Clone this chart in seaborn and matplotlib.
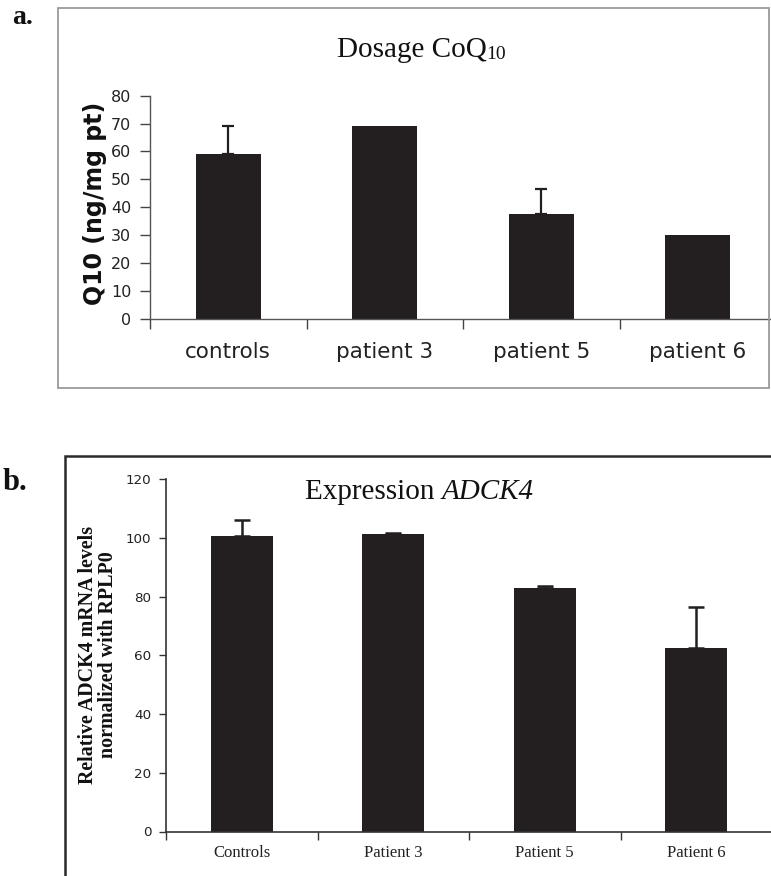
import matplotlib
matplotlib.use("Agg")
import matplotlib.pyplot as plt
import seaborn as sns
import pandas as pd
from matplotlib.patches import Rectangle
from matplotlib.ticker import FixedLocator

# ---------------- data ----------------
cats_a = ["controls", "patient 3", "patient 5", "patient 6"]
vals_a = [59.0, 69.3, 37.5, 30.2]
err_a = [10.0, 0.0, 9.0, 0.0]
yticks_a = [0, 10, 20, 30, 40, 50, 60, 70, 80]

cats_b = ["Controls", "Patient 3", "Patient 5", "Patient 6"]
vals_b = [100.5, 101.2, 82.8, 62.3]
err_b = [5.7, 0.3, 0.7, 14.1]
yticks_b = [0, 20, 40, 60, 80, 100, 120]

BAR = "#231f20"
W, H = 771, 876

sns.set_theme(style="white")
plt.rcParams["font.family"] = ["DejaVu Sans"]
serif = ["Liberation Serif", "DejaVu Serif"]

fig = plt.figure(figsize=(W / 100, H / 100), dpi=100)


def fx(px):
    return px / W


def fy(py):
    return 1 - py / H


def upper_errorbars(ax, vals, errs, **kw):
    idx = [i for i, e in enumerate(errs) if e > 0]
    ax.errorbar(idx, [vals[i] for i in idx],
                yerr=[[0] * len(idx), [errs[i] for i in idx]],
                fmt="none", zorder=3, **kw)


# ---------------- panel frames ----------------
fig.patches.append(Rectangle((fx(58), fy(388)), fx(769) - fx(58), fy(8) - fy(388),
                             transform=fig.transFigure, fill=False,
                             edgecolor="#9a9a9a", linewidth=1.3, zorder=0))
fig.patches.append(Rectangle((fx(64.5), fy(890)), fx(790) - fx(64.5), fy(456) - fy(890),
                             transform=fig.transFigure, fill=False,
                             edgecolor="#2a2a2a", linewidth=1.8, zorder=0))

# ---------------- panel a ----------------
ax1 = fig.add_axes([fx(150), fy(318.7), (776 - 150) / W, (318.7 - 95.7) / H])
ax1.patch.set_alpha(0)
dfa = pd.DataFrame({"cat": cats_a, "val": vals_a})
sns.barplot(data=dfa, x="cat", y="val", color=BAR, saturation=1, width=0.415,
            errorbar=None, ax=ax1, edgecolor=BAR, linewidth=0)
xa = list(range(len(cats_a)))
upper_errorbars(ax1, vals_a, err_a, ecolor=BAR, elinewidth=1.6, capsize=4.5, capthick=1.6)
ax1.set_ylim(0, 80)
ax1.set_xlim(-0.5, len(cats_a) - 0.5)
ax1.set_yticks(yticks_a)
ax1.set_yticklabels([str(v) for v in yticks_a])
ax1.set_xticks(xa)
ax1.set_xticklabels(cats_a)
ax1.xaxis.set_minor_locator(FixedLocator([i - 0.5 for i in range(len(cats_a) + 1)]))
ax1.tick_params(axis="x", which="major", length=0, pad=17, labelsize=15.5, colors="#222222")
ax1.tick_params(axis="x", which="minor", length=7, width=1, color="#444444", direction="out", bottom=True)
ax1.tick_params(axis="y", which="major", length=7.5, width=1, color="#444444", direction="out",
                left=True, pad=6, labelsize=11.5, labelcolor="#222222")
for s in ["top", "right"]:
    ax1.spines[s].set_visible(False)
for s in ["left", "bottom"]:
    ax1.spines[s].set_color("#555555")
    ax1.spines[s].set_linewidth(1.0)
ax1.set_xlabel("")
ax1.set_ylabel("")
ax1.grid(False)

fig.text(fx(95), fy(203), "Q10 (ng/mg pt)", rotation=90, ha="center", va="center",
         fontsize=17, fontweight="bold", color="#111111")
fig.text(fx(337), fy(56.7), "Dosage CoQ", ha="left", va="baseline",
         fontsize=21, family=serif, color="#111111")
fig.text(fx(486), fy(59.3), "10", ha="left", va="baseline",
         fontsize=14, family=serif, color="#111111")
fig.text(fx(12), fy(24), "a.", ha="left", va="baseline",
         fontsize=20, fontweight="bold", family=serif, color="#111111")

# ---------------- panel b ----------------
ax2 = fig.add_axes([fx(166), fy(831.5), (772 - 166) / W, (831.5 - 479) / H])
ax2.patch.set_alpha(0)
dfb = pd.DataFrame({"cat": cats_b, "val": vals_b})
sns.barplot(data=dfb, x="cat", y="val", color=BAR, saturation=1, width=0.41,
            errorbar=None, ax=ax2, edgecolor=BAR, linewidth=0)
xb = list(range(len(cats_b)))
upper_errorbars(ax2, vals_b, err_b, ecolor=BAR, elinewidth=1.8, capsize=6, capthick=1.8)
ax2.set_ylim(0, 120)
ax2.set_xlim(-0.5, len(cats_b) - 0.5)
ax2.set_yticks(yticks_b)
ax2.set_yticklabels([str(v) for v in yticks_b])
ax2.set_xticks(xb)
ax2.set_xticklabels(cats_b, fontfamily=serif)
ax2.xaxis.set_minor_locator(FixedLocator([i - 0.5 for i in range(len(cats_b) + 1)]))
ax2.tick_params(axis="x", which="major", length=0, pad=10, labelsize=12, colors="#222222")
ax2.tick_params(axis="x", which="minor", length=5.5, width=1, color="#333333", direction="out", bottom=True)
ax2.tick_params(axis="y", which="major", length=5, width=1, color="#333333", direction="out",
                left=True, pad=5.5, labelsize=9.7, labelcolor="#222222")
for s in ["top", "right"]:
    ax2.spines[s].set_visible(False)
for s in ["left", "bottom"]:
    ax2.spines[s].set_color("#333333")
    ax2.spines[s].set_linewidth(1.2)
ax2.set_xlabel("")
ax2.set_ylabel("")
ax2.grid(False)

fig.text(fx(98), fy(654.5), "Relative ADCK4 mRNA levels\nnormalized with RPLP0", rotation=90,
         ha="center", va="center", fontsize=14.4, fontweight="bold", family=serif,
         color="#111111", linespacing=0.95, multialignment="center")
fig.text(fx(305), fy(499), "Expression ", ha="left", va="baseline",
         fontsize=21, family=serif, color="#111111")
fig.text(fx(305 + 137), fy(499), "ADCK4", ha="left", va="baseline",
         fontsize=21, family=serif, style="italic", color="#111111")
fig.text(fx(3), fy(490), "b.", ha="left", va="baseline",
         fontsize=22, fontweight="bold", family=serif, color="#111111")

fig.savefig("out.png", dpi=100)
